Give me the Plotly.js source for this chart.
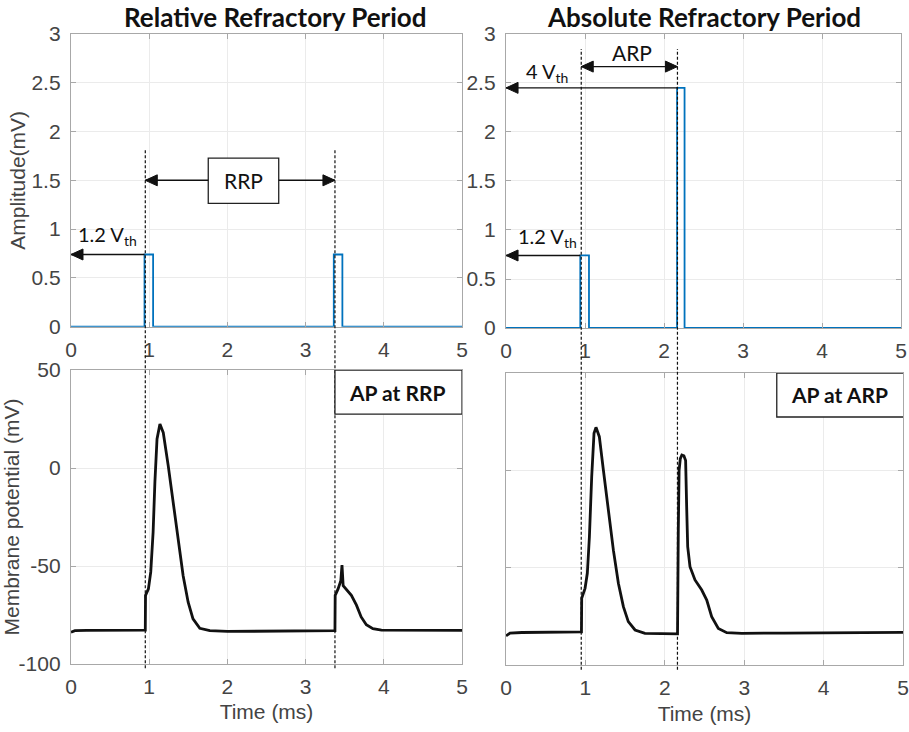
<!DOCTYPE html>
<html>
<head>
<meta charset="utf-8">
<script src="https://cdn.plot.ly/plotly-3.0.1.min.js"></script>
<style>html,body{margin:0;padding:0;background:#fff;}#chart{width:909px;height:732px;}</style>
</head>
<body>
<div id="chart"></div>
<script>
// ---- data ----
var pulseRRP_t = [0, 0.94, 0.94, 1.05, 1.05, 3.36, 3.36, 3.47, 3.47, 5];
var pulseRRP_a = [0, 0, 0.74, 0.74, 0, 0, 0.74, 0.74, 0, 0];
var pulseARP_t = [0, 0.94, 0.94, 1.05, 1.05, 2.165, 2.165, 2.26, 2.26, 5];
var pulseARP_a = [0, 0, 0.74, 0.74, 0, 0, 2.45, 2.45, 0, 0];

var apRRP_t = [0, 0.05, 0.2, 0.5, 0.8, 0.95, 0.953, 0.99, 1.02, 1.05, 1.073, 1.10, 1.137, 1.18, 1.243, 1.307, 1.37, 1.434, 1.498, 1.56, 1.647, 1.775, 2.0, 2.5, 3.0, 3.375, 3.378, 3.415, 3.45, 3.465, 3.48, 3.52, 3.585, 3.65, 3.71, 3.776, 3.86, 3.97, 4.3, 5.0];
var apRRP_v = [-83.8, -83, -82.8, -82.7, -82.7, -82.7, -65, -61.7, -53, -32.7, -7, 14.8, 22.4, 18, 1.2, -17.5, -36.2, -55, -68.5, -77, -81.8, -83, -83.4, -83.3, -83.1, -83, -65, -61.7, -57.5, -49.5, -60, -61.7, -65, -70, -76, -80, -82, -82.7, -82.8, -82.8];

var apARP_t = [0, 0.05, 0.2, 0.5, 0.8, 0.95, 0.953, 0.995, 1.024, 1.05, 1.079, 1.108, 1.133, 1.175, 1.226, 1.29, 1.352, 1.415, 1.478, 1.54, 1.625, 1.75, 1.95, 2.16, 2.17, 2.18, 2.195, 2.215, 2.24, 2.262, 2.275, 2.288, 2.317, 2.38, 2.465, 2.528, 2.59, 2.674, 2.78, 2.97, 3.5, 4.2, 5.0];
var apARP_v = [-85, -83.6, -83.3, -83.2, -83.1, -83, -65.7, -60.6, -52.9, -34.1, -3.3, 19, 22.1, 17.3, 0.2, -20.4, -41, -58, -70, -77.7, -82, -83.7, -84, -84, -30, 0, 6, 7.9, 7.5, 5, -18.7, -39.2, -49.5, -56.3, -61.5, -66.6, -75.2, -81.2, -83.4, -83.7, -83.6, -83.4, -83.2];

var xTicks = [0, 1, 2, 3, 4, 5];
var ampTicks = [0, 0.5, 1, 1.5, 2, 2.5, 3];
var vmTicks = [-100, -50, 0, 50];

var titleLeft = 'Relative Refractory Period';
var titleRight = 'Absolute Refractory Period';

// ---- drawing ----
var blue = '#0072BD';
var traces = [
  {x: pulseRRP_t, y: pulseRRP_a, xaxis: 'x', yaxis: 'y', mode: 'lines', line: {color: blue, width: 1.8}},
  {x: pulseARP_t, y: pulseARP_a, xaxis: 'x2', yaxis: 'y2', mode: 'lines', line: {color: blue, width: 1.8}},
  {x: apRRP_t, y: apRRP_v, xaxis: 'x3', yaxis: 'y3', mode: 'lines', line: {color: '#111', width: 2.8}},
  {x: apARP_t, y: apARP_v, xaxis: 'x4', yaxis: 'y4', mode: 'lines', line: {color: '#111', width: 2.8}}
];

var tickFont = {family: 'Liberation Sans, Arial, sans-serif', size: 21, color: '#444'};
var axTitleFont = {family: 'Liberation Sans, Arial, sans-serif', size: 21, color: '#444'};
function xax(dom, anchor, title) {
  var a = {domain: dom, anchor: anchor, range: [0, 5], tickvals: xTicks, ticktext: xTicks.map(String),
    showline: true, linecolor: '#a8a8a8', linewidth: 1.2, mirror: 'ticks', ticks: 'inside', ticklen: 5, tickcolor: '#a8a8a8',
    showgrid: true, gridcolor: '#ebebeb', zeroline: false, tickfont: tickFont, ticklabelstandoff: 4, automargin: false, fixedrange: true};
  if (title) a.title = {text: title, font: axTitleFont, standoff: 7};
  return a;
}
function yax(dom, anchor, range, vals, title, showLabels) {
  var a = {domain: dom, anchor: anchor, range: range, tickvals: vals, ticktext: vals.map(String),
    showline: true, linecolor: '#a8a8a8', linewidth: 1.2, mirror: 'ticks', ticks: 'inside', ticklen: 5, tickcolor: '#a8a8a8',
    showgrid: true, gridcolor: '#ebebeb', zeroline: false, tickfont: tickFont, ticklabelstandoff: 5, automargin: false,
    showticklabels: showLabels, fixedrange: true};
  if (title) a.title = {text: title, font: axTitleFont, standoff: 0};
  return a;
}

var annFont = {family: 'Lato, Open Sans, sans-serif', size: 20, color: '#111'};
function label(xr, yr, x, y, text, font) {
  return {xref: xr, yref: yr, x: x, y: y, text: text, showarrow: false, font: font || annFont, xanchor: 'center', yanchor: 'middle'};
}
var boldFont = {family: 'Lato, Open Sans, sans-serif', size: 21, color: '#111', weight: 700};
var titleFont = {family: 'Lato, Open Sans, sans-serif', size: 26, color: '#111', weight: 900};

var annotations = [
  {xref: 'paper', yref: 'paper', x: 0.3036, y: 0.977, text: '<b>' + titleLeft + '</b>', showarrow: false,
   font: titleFont, xanchor: 'center', yanchor: 'middle'},
  {xref: 'paper', yref: 'paper', x: 0.7745, y: 0.977, text: '<b>' + titleRight + '</b>', showarrow: false,
   font: titleFont, xanchor: 'center', yanchor: 'middle'},
  label('x', 'y', 0.47, 0.93, '1.2 V<sub>th</sub>'),
  label('x', 'y', 2.2, 1.5, 'RRP', {family: 'Lato, Open Sans, sans-serif', size: 21, color: '#111'}),
  label('x2', 'y2', 0.52, 0.92, '1.2 V<sub>th</sub>'),
  label('x2', 'y2', 0.52, 2.61, '4 V<sub>th</sub>'),
  label('x2', 'y2', 1.595, 2.81, 'ARP', {family: 'Lato, Open Sans, sans-serif', size: 21, color: '#111'}),
  label('x3', 'y3', 4.17, 38.5, '<b>AP at RRP</b>', boldFont),
  label('x4', 'y4', 4.2, 39, '<b>AP at ARP</b>', boldFont)
];

// arrows: a line plus a filled triangular head sized in pixels
var arrowLine = {color: '#111', width: 1.4};
function arrowShapes(xr, yr, hx, hy, tx, ty, dir) {
  // dir: -1 head points left, +1 head points right
  var L = 12, W = 5.5;
  var p = dir < 0 ? ('M0,0 L' + L + ',' + W + ' L' + L + ',' + (-W) + ' Z') : ('M0,0 L' + (-L) + ',' + W + ' L' + (-L) + ',' + (-W) + ' Z');
  return [
    {type: 'line', xref: xr, yref: yr, x0: tx, x1: hx, y0: ty, y1: hy, line: arrowLine},
    {type: 'path', xref: xr, yref: yr, xsizemode: 'pixel', ysizemode: 'pixel', xanchor: hx, yanchor: hy, path: p,
     fillcolor: '#111', line: {color: '#111', width: 1}}
  ];
}

var dashLine = {color: '#111', width: 1.2, dash: '3px,2px'};
var shapes = [
  {type: 'line', xref: 'x', yref: 'paper', x0: 0.95, x1: 0.95, y0: 0.087, y1: 0.795, line: dashLine},
  {type: 'line', xref: 'x', yref: 'paper', x0: 3.375, x1: 3.375, y0: 0.087, y1: 0.795, line: dashLine},
  {type: 'line', xref: 'x2', yref: 'paper', x0: 0.952, x1: 0.952, y0: 0.085, y1: 0.933, line: dashLine},
  {type: 'line', xref: 'x2', yref: 'paper', x0: 2.17, x1: 2.17, y0: 0.085, y1: 0.933, line: dashLine},
  {type: 'rect', xref: 'x', yref: 'y', x0: 1.755, x1: 2.656, y0: 1.264, y1: 1.727, line: {color: '#222', width: 1.3}, fillcolor: '#fff'},
  {type: 'rect', xref: 'x3', yref: 'y3', x0: 3.375, x1: 5, y0: 27.5, y1: 50, line: {color: '#222', width: 1.3}, fillcolor: '#fff'},
  {type: 'rect', xref: 'x4', yref: 'y4', x0: 3.41, x1: 5.01, y0: 27.4, y1: 50, line: {color: '#222', width: 1.3}, fillcolor: '#fff'}
]
  .concat(arrowShapes('x', 'y', 0, 0.74, 0.94, 0.74, -1))
  .concat(arrowShapes('x', 'y', 0.95, 1.5, 1.755, 1.5, -1))
  .concat(arrowShapes('x', 'y', 3.375, 1.5, 2.656, 1.5, 1))
  .concat(arrowShapes('x2', 'y2', 0, 0.74, 0.94, 0.74, -1))
  .concat(arrowShapes('x2', 'y2', 0, 2.45, 2.165, 2.45, -1))
  .concat(arrowShapes('x2', 'y2', 2.17, 2.667, 0.952, 2.667, 1))
  .concat(arrowShapes('x2', 'y2', 0.952, 2.667, 2.17, 2.667, -1).slice(1));

var layout = {
  width: 909, height: 732,
  margin: {l: 0, r: 0, t: 0, b: 0},
  paper_bgcolor: '#fff', plot_bgcolor: '#fff',
  showlegend: false,
  xaxis: xax([0.0781, 0.5083], 'y'),
  yaxis: yax([0.5537, 0.9536], 'x', [0, 3], ampTicks, 'Amplitude(mV)', true),
  xaxis2: xax([0.5567, 0.9912], 'y2'),
  yaxis2: yax([0.5519, 0.9536], 'x2', [0, 3], ampTicks, null, true),
  xaxis3: xax([0.0781, 0.5083], 'y3', 'Time (ms)'),
  yaxis3: yax([0.0929, 0.4945], 'x3', [-100, 50], vmTicks, 'Membrane potential (mV)', true),
  xaxis4: xax([0.5567, 0.9934], 'y4', 'Time (ms)'),
  yaxis4: yax([0.0915, 0.4904], 'x4', [-100, 50], vmTicks, null, false),
  annotations: annotations,
  shapes: shapes
};

Plotly.newPlot('chart', traces, layout, {displayModeBar: false, staticPlot: true});
</script>
</body>
</html>
